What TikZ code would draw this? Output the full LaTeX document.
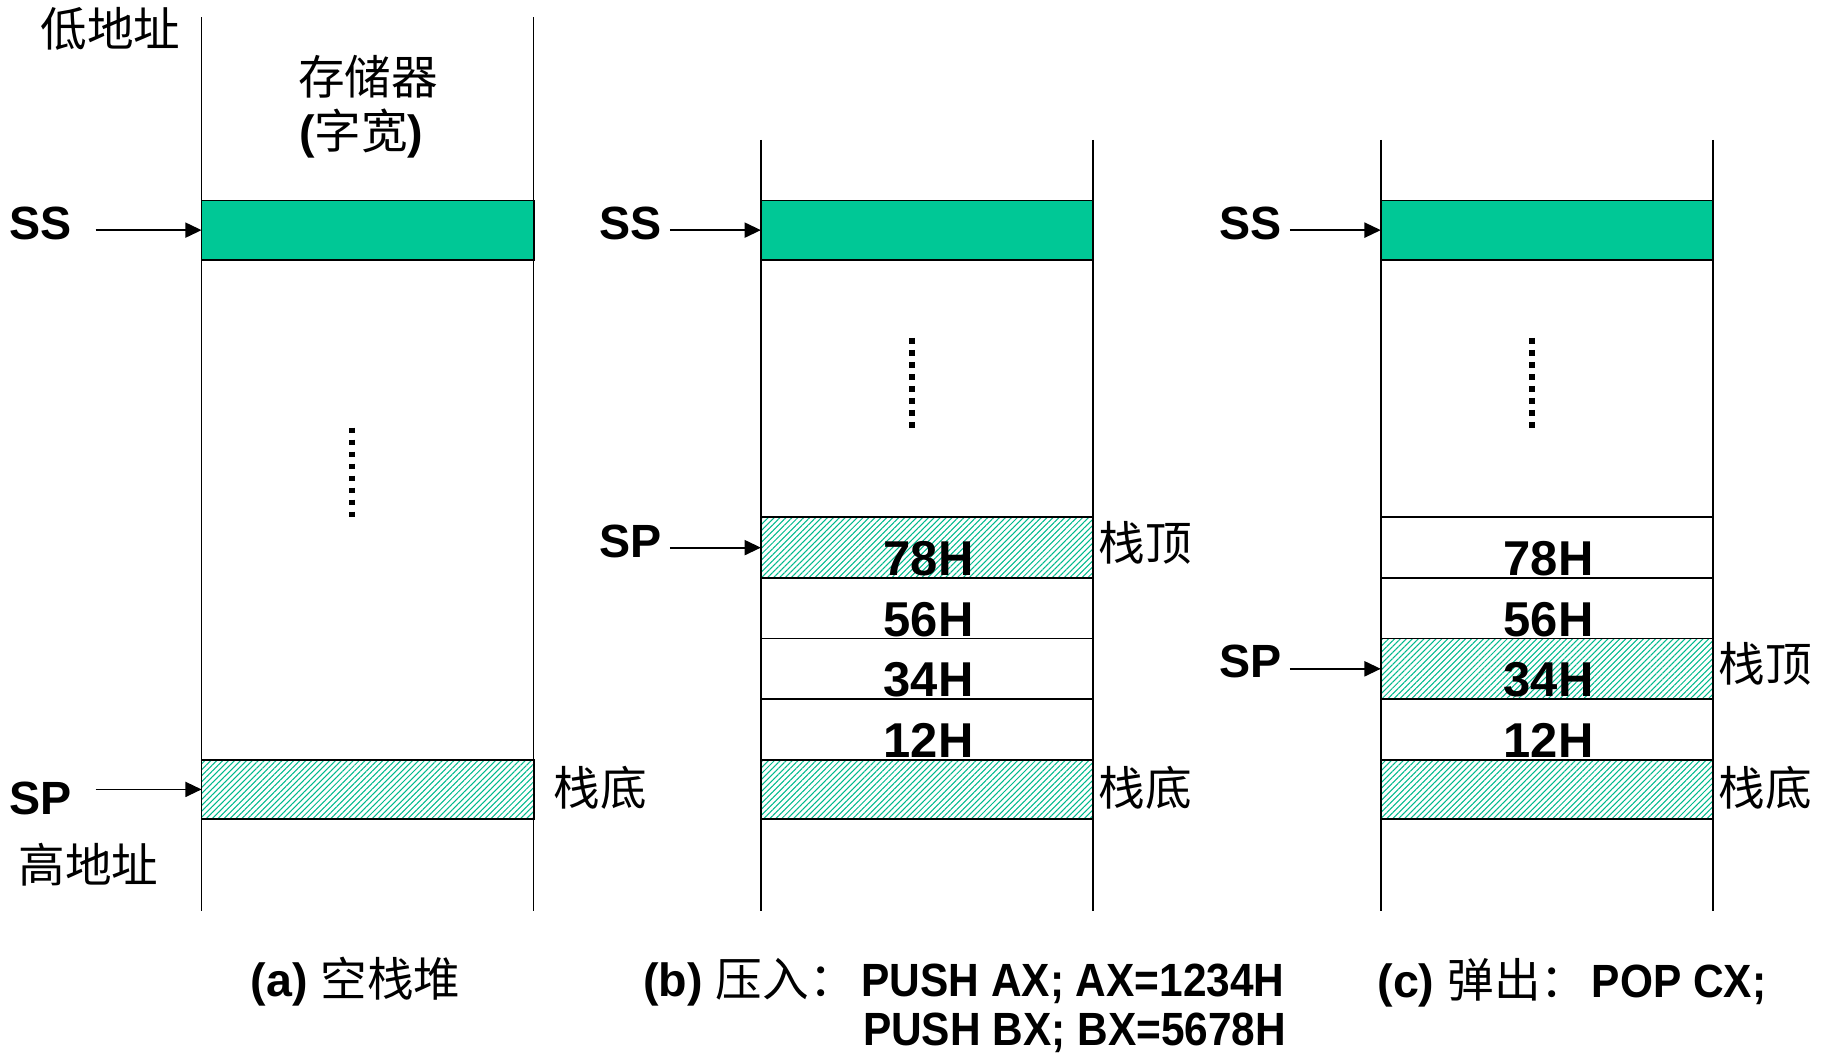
\documentclass[tikz,border=0pt]{standalone}
\usepackage{fontspec}
\setmainfont{Liberation Sans}
\newfontfamily\cjk{Noto Sans CJK SC}
\newfontfamily\cond[FakeStretch=0.91]{Liberation Sans}
\usetikzlibrary{arrows.meta,patterns.meta}
\definecolor{ssgreen}{RGB}{0,200,150}
\definecolor{hatchgreen}{RGB}{0,185,140}
\tikzset{
  colline/.style={line width=1.3pt},
  band/.style={draw, line width=1.5pt, minimum width=285pt, minimum height=52pt, inner sep=0pt, outer sep=0pt},
  ssband/.style={band, fill=ssgreen, minimum height=51pt},
  hatchband/.style={band, pattern={Lines[angle=45,distance=3.6pt,line width=0.9pt]}, pattern color=hatchgreen},
  ptr/.style={line width=1.5pt, -{Triangle[length=14pt,width=13pt]}},
  reg/.style={inner sep=0pt, font=\bfseries\fontsize{40}{44}\selectfont},
  num/.style={inner sep=0pt, font=\bfseries\fontsize{42}{46}\selectfont},
  zh/.style={inner sep=0pt, font=\cjk\fontsize{40}{44}\selectfont},
  captext/.style={inner sep=0pt, font=\fontsize{40}{44}\selectfont},
  dotline/.style={line width=5pt, dash pattern=on 5pt off 5.3pt},
}
\begin{document}
\begin{tikzpicture}[x=1pt,y=-1pt]
\useasboundingbox (0,0) rectangle (1568,905);
% ---------------- panel (a)
\draw[colline] (173,15) -- (173,782);
\draw[colline] (458,15) -- (458,782);
\node[ssband] (aSS) at (315.5,197.5) {};
\node[hatchband, minimum height=51pt] (aBot) at (315.5,677.5) {};
\draw[dotline] (302,367) -- (302,445);
\node[zh] (alow) at (95,25) {低地址};
\node[zh] (ahigh) at (76,742) {高地址};
\node[zh] (amem) at (316,66) {存储器};
\node[inner sep=0pt] (awid) at (310,115) {{\bfseries\fontsize{40}{44}\selectfont(}{\cjk\fontsize{40}{44}\selectfont 字宽}{\bfseries\fontsize{40}{44}\selectfont)}};
\node[reg, anchor=west] (aSSl) at (8,192) {SS};
\node[reg, anchor=west] (aSPl) at (8,685) {SP};
\coordinate (aSSs) at (82,197.5);
\coordinate (aSPs) at (82,677.5);
\draw[ptr] (aSSs) -- (aSS.west);
\draw[ptr] (aSPs) -- (aBot.west);
\node[zh] (abotl) at (515,676) {栈底};
% ---------------- panel (b)
\draw[colline] (653,120) -- (653,782);
\draw[colline] (938,120) -- (938,782);
\node[ssband] (bSS) at (795.5,197.5) {};
\draw[dotline] (783,290) -- (783,368);
\node[hatchband] (bR1) at (795.5,470) {};
\node[band] (bR2) at (795.5,522) {};
\node[band] (bR3) at (795.5,574) {};
\node[band] (bR4) at (795.5,626) {};
\node[hatchband, minimum height=51pt] (bBot) at (795.5,677.5) {};
\node[num, anchor=base] (b78) at (797,494) {78H};
\node[num, anchor=base] (b56) at (797,546) {56H};
\node[num, anchor=base] (b34) at (797,598) {34H};
\node[num, anchor=base] (b12) at (797,650) {12H};
\node[reg, anchor=west] (bSSl) at (514,192) {SS};
\node[reg, anchor=west] (bSPl) at (514,465) {SP};
\coordinate (bSSs) at (575,197.5);
\coordinate (bSPs) at (575,470);
\draw[ptr] (bSSs) -- (bSS.west);
\draw[ptr] (bSPs) -- (bR1.west);
\node[zh] (btopl) at (983,466) {栈顶};
\node[zh] (bbotl) at (983,676) {栈底};
% ---------------- panel (c)
\draw[colline] (1185,120) -- (1185,782);
\draw[colline] (1470,120) -- (1470,782);
\node[ssband] (cSS) at (1327.5,197.5) {};
\draw[dotline] (1315,290) -- (1315,368);
\node[band] (cR1) at (1327.5,470) {};
\node[band] (cR2) at (1327.5,522) {};
\node[hatchband] (cR3) at (1327.5,574) {};
\node[band] (cR4) at (1327.5,626) {};
\node[hatchband, minimum height=51pt] (cBot) at (1327.5,677.5) {};
\node[num, anchor=base] (c78) at (1329,494) {78H};
\node[num, anchor=base] (c56) at (1329,546) {56H};
\node[num, anchor=base] (c34) at (1329,598) {34H};
\node[num, anchor=base] (c12) at (1329,650) {12H};
\node[reg, anchor=west] (cSSl) at (1046,192) {SS};
\node[reg, anchor=west] (cSPl) at (1046,568) {SP};
\coordinate (cSSs) at (1107,197.5);
\coordinate (cSPs) at (1107,574);
\draw[ptr] (cSSs) -- (cSS.west);
\draw[ptr] (cSPs) -- (cR3.west);
\node[zh] (ctopl) at (1515,570) {栈顶};
\node[zh] (cbotl) at (1515,676) {栈底};
% ---------------- captions
\node[captext, anchor=base west] (capa) at (215,855) {{\bfseries (a)} {\cjk 空栈堆}};
\node[captext, anchor=base west] (capb) at (552,855) {{\bfseries (b)} {\cjk 压入：}\hspace{5pt}{\cond\bfseries PUSH AX; AX=1234H}};
\node[captext, anchor=base east] (capb2) at (1104,897) {{\cond\bfseries PUSH BX; BX=5678H}};
\node[captext, anchor=base west] (capc) at (1182,856) {{\bfseries (c)} {\cjk 弹出：}\hspace{4pt}{\cond\bfseries POP CX;}};
\end{tikzpicture}
\end{document}
